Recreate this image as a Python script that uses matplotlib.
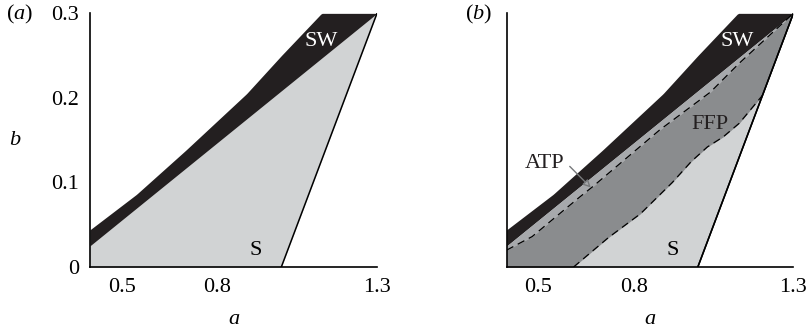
import matplotlib
matplotlib.use("Agg")
import matplotlib.pyplot as plt
import numpy as np

plt.rcParams['font.family'] = ['Liberation Serif', 'DejaVu Serif']
plt.rcParams['mathtext.fontset'] = 'custom'
plt.rcParams['mathtext.rm'] = 'Liberation Serif'
plt.rcParams['mathtext.it'] = 'Liberation Serif:italic'

# ---- data ----
# upper edge of the SW region
sw_a = [0.40, 0.546, 0.70, 0.891, 1.00, 1.126, 1.30]
sw_b = [0.044, 0.086, 0.138, 0.205, 0.250, 0.300, 0.300]
# lower edge of the SW region (top of stable region)
st_a = [0.40, 1.30]
st_b = [0.025, 0.300]
# right edge of stable region S
se_a = [1.00, 1.30]
se_b = [0.000, 0.300]
# ATP boundary (dashed, panel b)
atp_a = [0.40, 0.48, 0.55, 0.63, 0.67, 0.88, 1.04, 1.13, 1.30]
atp_b = [0.020, 0.036, 0.058, 0.083, 0.095, 0.162, 0.207, 0.241, 0.300]
# FFP / S boundary (dashed, panel b)
ffp_a = [0.61, 0.72, 0.82, 0.92, 0.98, 1.03, 1.08, 1.13, 1.203]
ffp_b = [0.000, 0.035, 0.063, 0.100, 0.125, 0.142, 0.154, 0.170, 0.203]

xticks = [0.5, 0.8, 1.3]
xticklabels = ['0.5', '0.8', '1.3']
yticks = [0, 0.1, 0.2, 0.3]
yticklabels = ['0', '0.1', '0.2', '0.3']

c_sw = '#231f20'
c_s = '#d1d3d4'
c_atp = '#a7a9ac'
c_ffp = '#8a8c8e'
fs = 16


def on_line(x, xs, ys):
    return np.interp(x, xs, ys)


def base_panel(ax):
    xs = np.linspace(0.4, 1.3, 200)
    top = on_line(xs, st_a, st_b)
    edge = on_line(xs, se_a, se_b)
    ax.fill_between(xs, edge, top, color=c_s, lw=0)
    ax.fill_between(xs, top, on_line(xs, sw_a, sw_b), color=c_sw, lw=0)
    ax.plot(se_a, se_b, color='black', lw=1.1)
    ax.set_xlim(0.4, 1.3)
    ax.set_ylim(0, 0.3)
    for s in ['top', 'right']:
        ax.spines[s].set_visible(False)
    for s in ['left', 'bottom']:
        ax.spines[s].set_linewidth(1.2)
    ax.set_xticks(xticks)
    ax.set_xticklabels(xticklabels)
    ax.tick_params(length=0, pad=8, labelsize=fs)
    ax.set_xlabel('a', fontsize=fs, style='italic', labelpad=9)
    ax.text(0.921, 0.020, 'S', fontsize=fs, ha='center', va='center')
    ax.text(1.125, 0.267, 'SW', fontsize=fs, ha='center', va='center', color='white')


fig = plt.figure(figsize=(8.09, 3.29), dpi=100)
ax1 = fig.add_axes([0.1112, 0.1884, 0.3548, 0.771])
ax2 = fig.add_axes([0.6263, 0.1884, 0.3544, 0.771])

base_panel(ax1)
ax1.set_yticks(yticks)
ax1.set_yticklabels(yticklabels)
ax1.set_ylabel('b', fontsize=fs, style='italic', rotation=0, labelpad=26, va='center')
fig.text(0.007, 0.955, r'($\mathit{a}$)', fontsize=fs, ha='left', va='center')

base_panel(ax2)
ax2.set_yticks([])
xs = np.linspace(0.4, 1.3, 300)
atp = on_line(xs, atp_a, atp_b)
ax2.fill_between(xs, atp, on_line(xs, st_a, st_b), color=c_atp, lw=0)
low = np.where(xs < ffp_a[0], 0.0,
               np.where(xs <= ffp_a[-1], on_line(xs, ffp_a, ffp_b), on_line(xs, se_a, se_b)))
low = np.minimum(low, atp)
ax2.fill_between(xs, low, atp, color=c_ffp, lw=0)
ax2.plot(se_a, se_b, color='black', lw=1.1)
ax2.plot(atp_a, atp_b, color='black', lw=0.9, dashes=(6, 4))
ax2.plot(ffp_a, ffp_b, color='black', lw=0.9, dashes=(6, 4))
ax2.text(1.038, 0.168, 'FFP', fontsize=fs, ha='center', va='center', color=c_sw)
ax2.text(0.520, 0.122, 'ATP', fontsize=fs, ha='center', va='center', color=c_sw)
ax2.annotate('', xy=(0.664, 0.094), xytext=(0.598, 0.119),
             arrowprops=dict(arrowstyle='-|>', color='#77797b', lw=1.0,
                             shrinkA=0, shrinkB=0, mutation_scale=11,
                             fc='#a7a9ac'))
fig.text(0.575, 0.955, r'($\mathit{b}$)', fontsize=fs, ha='left', va='center')

fig.savefig('out.png', dpi=100)
